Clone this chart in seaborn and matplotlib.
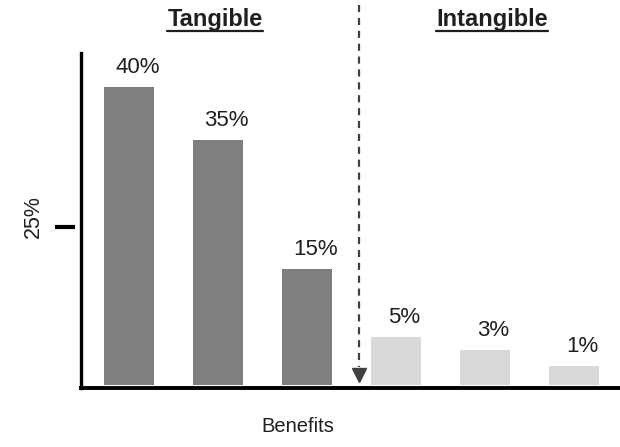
import matplotlib
matplotlib.use('Agg')
import matplotlib.pyplot as plt
import matplotlib.transforms as mtransforms
from matplotlib.lines import Line2D
import seaborn as sns
import pandas as pd

# ---- data ----
categories = ['B1', 'B2', 'B3', 'B4', 'B5', 'B6']
bar_heights = [47.3, 38.9, 18.4, 7.7, 5.6, 3.05]
value_labels = ['40%', '35%', '15%', '5%', '3%', '1%']
groups = ['Tangible', 'Tangible', 'Tangible', 'Intangible', 'Intangible', 'Intangible']
group_titles = ['Tangible', 'Intangible']
y_ticks = [25]
y_tick_labels = ['25%']
x_label = 'Benefits'

sns.set_theme(style='white')
plt.rcParams['font.family'] = ['Liberation Sans', 'DejaVu Sans']

TEXT = '#1f1f1f'
W, H = 620, 447
fig = plt.figure(figsize=(W / 100, H / 100), dpi=100)
ax_left, ax_bottom = 80.5, 388
ax = fig.add_axes([ax_left / W, (H - ax_bottom) / H, (W - ax_left) / W, ax_bottom / H])

df = pd.DataFrame({'cat': categories, 'h': bar_heights, 'grp': groups})
palette = {'Tangible': '#7f7f7f', 'Intangible': '#d9d9d9'}
sns.barplot(data=df, x='cat', y='h', hue='grp', palette=palette, dodge=False,
            width=0.565, legend=False, ax=ax, saturation=1, linewidth=0)

ax.set_xlim(-0.55, 5.52)
ax.set_ylim(-0.4, 61.0)
ax.set_xticks([])
ax.set_yticks([])
ax.set_xlabel('')
ax.set_ylabel('')

for s in ['top', 'right']:
    ax.spines[s].set_visible(False)
ax.spines['left'].set_bounds(-0.4, 52.6)
ax.spines['left'].set_linewidth(2.4)
ax.spines['left'].set_color('black')
ax.spines['bottom'].set_linewidth(2.8)
ax.spines['bottom'].set_color('black')

# value labels
for i, (h, lab) in enumerate(zip(bar_heights, value_labels)):
    ax.annotate(lab, xy=(i, h), xytext=(6, 10), textcoords='offset points',
                ha='center', va='baseline', fontsize=16, color=TEXT)

# y tick (detached from the axis) and label
blend = mtransforms.blended_transform_factory(ax.transAxes, ax.transData)
span = W - ax_left
ax.plot([(55 - ax_left) / span, (75 - ax_left) / span], [y_ticks[0], y_ticks[0]],
        transform=blend, color='black', lw=3, solid_capstyle='butt', clip_on=False)
ax.annotate(y_tick_labels[0], xy=(0, y_ticks[0]), xycoords=('axes fraction', 'data'),
            xytext=(-(ax_left - 33) * 0.72, 11 * 0.72), textcoords='offset points',
            rotation=90, ha='center', va='center', fontsize=15.5, color=TEXT)

# divider dashed arrow
div_x = 2.583
ax.plot([div_x, div_x], [60.2, 2.9], color='#404040', lw=1.6, ls=(0, (3.2, 2.6)))
ax.plot([div_x], [1.66], marker='v', ms=10, color='#404040', mec='#404040')

# x label
ax.text((298 - ax_left) / span, -(427 - ax_bottom) / ax_bottom, x_label,
        transform=ax.transAxes, ha='center', va='center', fontsize=14.5, color=TEXT)

# group titles, underlined
title_x = [215, 492]
texts = []
for tx, title in zip(title_x, group_titles):
    t = fig.text(tx / W, (H - 26) / H, title, ha='center', va='baseline',
                 fontsize=17, fontweight='bold', color=TEXT)
    texts.append(t)

fig.canvas.draw()
renderer = fig.canvas.get_renderer()
for t in texts:
    bb = t.get_window_extent(renderer)
    fig.add_artist(Line2D([bb.x0, bb.x1], [H - 30.5, H - 30.5],
                          transform=mtransforms.IdentityTransform(),
                          color=TEXT, lw=1.6))

fig.savefig('out.png', dpi=100)
